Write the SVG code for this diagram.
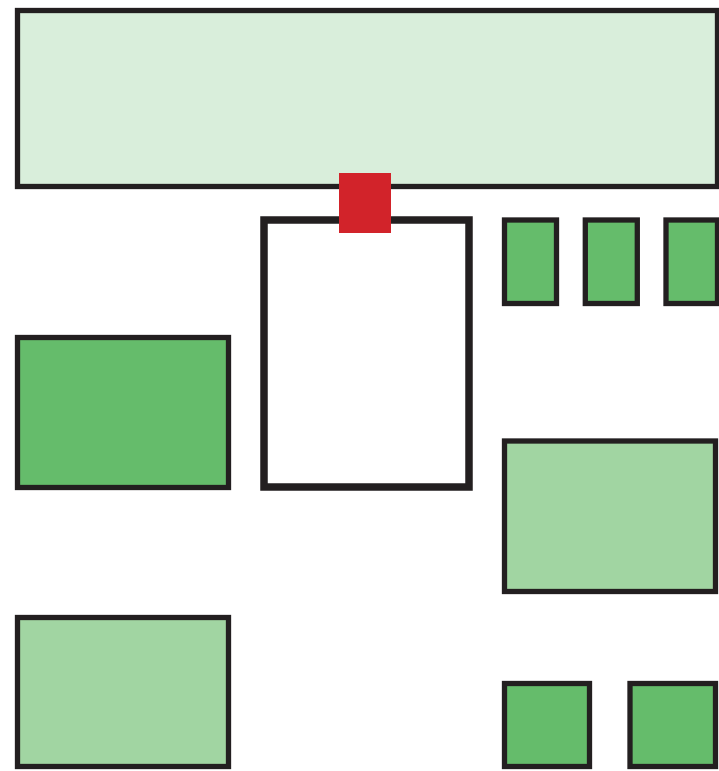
<svg xmlns="http://www.w3.org/2000/svg" width="719" height="771" viewBox="0 0 719 771">
<style>
.b{stroke:#231f20;stroke-width:5.3;}
.pale{fill:#d9eedb;}
.mid{fill:#a1d5a2;}
.green{fill:#65bc6b;}
.open{fill:#ffffff;stroke:#231f20;stroke-width:7.5;}
.red{fill:#d2232a;}
</style>
<rect width="719" height="771" fill="#ffffff"/>
<g id="top-bar"><rect class="b pale" x="17.5" y="10.5" width="700" height="176"/></g>
<g id="center-box"><rect class="open" x="264" y="220" width="205" height="267"/></g>
<g id="red-port"><rect class="red" x="339" y="173" width="52" height="60"/></g>
<g id="small-1"><rect class="b green" x="504.5" y="220" width="52" height="83.5"/></g>
<g id="small-2"><rect class="b green" x="585.3" y="220" width="52" height="83.5"/></g>
<g id="small-3"><rect class="b green" x="666" y="220" width="51.5" height="83.5"/></g>
<g id="left-green"><rect class="b green" x="17.5" y="337.5" width="211" height="150"/></g>
<g id="right-mid"><rect class="b mid" x="504.5" y="441" width="211" height="150.5"/></g>
<g id="left-mid"><rect class="b mid" x="17.5" y="617.5" width="211" height="149"/></g>
<g id="sq-1"><rect class="b green" x="504.5" y="683.5" width="85" height="83"/></g>
<g id="sq-2"><rect class="b green" x="630" y="683.5" width="85.5" height="83"/></g>
<g id="connectors"></g>
</svg>
